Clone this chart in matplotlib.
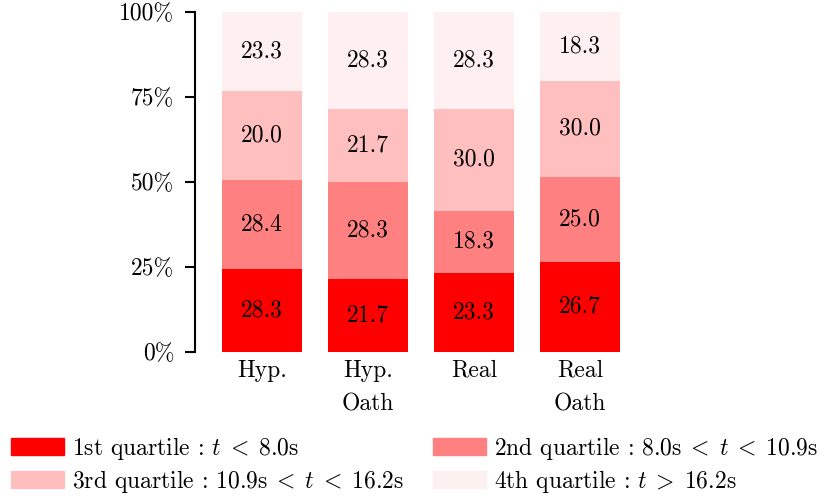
import numpy as np
import matplotlib
matplotlib.use('Agg')
import matplotlib.pyplot as plt
from matplotlib.patches import Patch

plt.rcParams['font.family'] = 'serif'
plt.rcParams['font.serif'] = ['cmr10']
plt.rcParams['mathtext.fontset'] = 'cm'
plt.rcParams['axes.unicode_minus'] = False

# 데이터 (막대 높이는 그림에서 읽은 값, 라벨 숫자는 그림에 적힌 값)
groups = ['Hyp.', 'Hyp.\nOath', 'Real', 'Real\nOath']
h1 = [24.3, 21.4, 23.2, 26.5]
h2 = [26.2, 28.6, 18.3, 25.0]
h3 = [26.2, 21.5, 30.0, 28.3]
h4 = [23.3, 28.5, 28.5, 20.2]
lab1 = ['28.3', '21.7', '23.3', '26.7']
lab2 = ['28.4', '28.3', '18.3', '25.0']
lab3 = ['20.0', '21.7', '30.0', '30.0']
lab4 = ['23.3', '28.3', '28.3', '18.3']
labels = [r'1st quartile : $t\;<\;8.0$s',
          r'2nd quartile : 8.0s$\;<\;t\;<\;$10.9s',
          r'3rd quartile : 10.9s$\;<\;t\;<\;$16.2s',
          r'4th quartile : $t\;>\;16.2$s']
colors = ['#ff0000', '#ff8080', '#ffbfbf', '#fef0f0']

fs = 17
fig = plt.figure(figsize=(8.29, 4.96), dpi=100)
ax = fig.add_axes([195/829, 1-351.5/496, (660-195)/829, (351.5-12)/496])

x = np.arange(len(groups))
bottom = np.zeros(len(groups))
handles = []
for vals, txts, c, lab in zip([h1, h2, h3, h4], [lab1, lab2, lab3, lab4], colors, labels):
    vals = np.array(vals)
    ax.bar(x, vals, bottom=bottom, width=0.755, color=c, linewidth=0)
    for xi, b, v, t in zip(x, bottom, vals, txts):
        ax.text(xi, b + v/2, t, ha='center', va='center', fontsize=fs)
    bottom += vals
    handles.append(Patch(color=c, label=lab))

ax.set_xlim(-0.632, 3.755)
ax.set_ylim(0, 100)
ax.set_yticks([0, 25, 50, 75, 100])
ax.set_yticklabels(['0%', '25%', '50%', '75%', '100%'], fontsize=fs)
ax.set_xticks(x)
ax.set_xticklabels(groups, fontsize=fs, linespacing=1.65, va='top')
ax.tick_params(axis='x', length=0, pad=6)
ax.tick_params(axis='y', length=7, width=1.5, pad=8)
for s in ['top', 'right', 'bottom']:
    ax.spines[s].set_visible(False)
ax.spines['left'].set_linewidth(1.5)
ax.spines['left'].set_bounds(0, 100)

order = [0, 2, 1, 3]
fig.legend([handles[i] for i in order], [labels[i] for i in order],
           loc='lower left', bbox_to_anchor=(-0.0097, -0.036), ncol=2, frameon=False,
           fontsize=fs, handlelength=2.25, handleheight=0.74, handletextpad=0.33,
           columnspacing=1.24, labelspacing=0.25, borderpad=0.3)

plt.savefig('out.png', dpi=100)
